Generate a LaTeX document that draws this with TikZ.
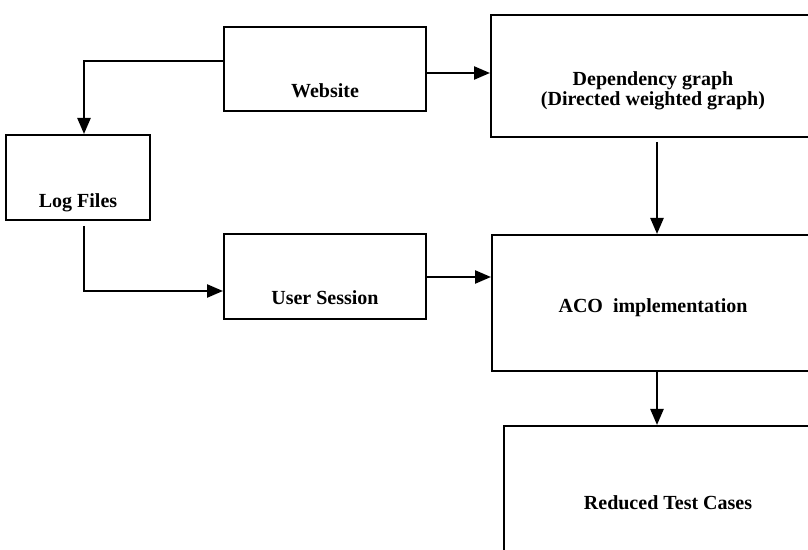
\documentclass[tikz,border=0pt]{standalone}
\usepackage{fontspec}
\setmainfont{Liberation Serif}
\usepackage{tikz}
\usetikzlibrary{arrows.meta, positioning, calc}
\tikzset{
    block/.style={draw=black, line width=1pt, inner sep=0pt, align=center,
                  anchor=north west, font=\bfseries\fontsize{10}{10}\selectfont},
    flow/.style={draw=black, line width=1.2pt,
                 -{Triangle[length=8pt, width=6.5pt]}}
}

\begin{document}
    \begin{tikzpicture}[x=0.5pt, y=-0.5pt]
        \useasboundingbox (0,0) rectangle (808,550);
        \node[block, minimum width=101pt, text height=35.25pt,
              text depth=6.75pt] (web) at (223,26) {Website};
        \node[block, minimum width=162pt, text height=45.5pt,
              text depth=15.5pt] (dep) at (490,14)
              {Dependency graph\\(Directed weighted graph)};
        \node[block, minimum width=72pt, text height=36.25pt,
              text depth=6.25pt] (log) at (5,134) {Log Files};
        \node[block, minimum width=101pt, text height=35.5pt,
              text depth=7pt] (us) at (223,233) {User Session};
        \node[block, minimum width=161pt, text height=38.75pt,
              text depth=29.25pt] (aco) at (491,234) {ACO\ \ implementation};
        \node[block, minimum width=164pt, text height=41.75pt,
              text depth=28.25pt] (red) at (503,425) {Reduced Test Cases};

        \coordinate (webout) at ([yshift=-17.5pt]web.north west);
        \coordinate (webright) at ([yshift=-23.5pt]web.north east);
        \coordinate (logout) at ([xshift=3pt, yshift=-2.5pt]log.south);
        \coordinate (usin) at ([yshift=-29pt]us.north west);
        \coordinate (usout) at ([yshift=-22pt]us.north east);
        \coordinate (acoout) at ([xshift=2pt]aco.south);

        \draw[flow] (webout) -| ([xshift=3pt]log.north);
        \draw[flow] (webright) -- (webright -| dep.west);
        \draw[flow] (logout) |- (usin);
        \draw[flow] (usout) -- (usout -| aco.west);
        \draw[flow] ([shift={(4,4)}]dep.south) -- ([xshift=2pt]aco.north);
        \draw[flow] (acoout) -- (acoout |- red.north);
    \end{tikzpicture}
\end{document}
